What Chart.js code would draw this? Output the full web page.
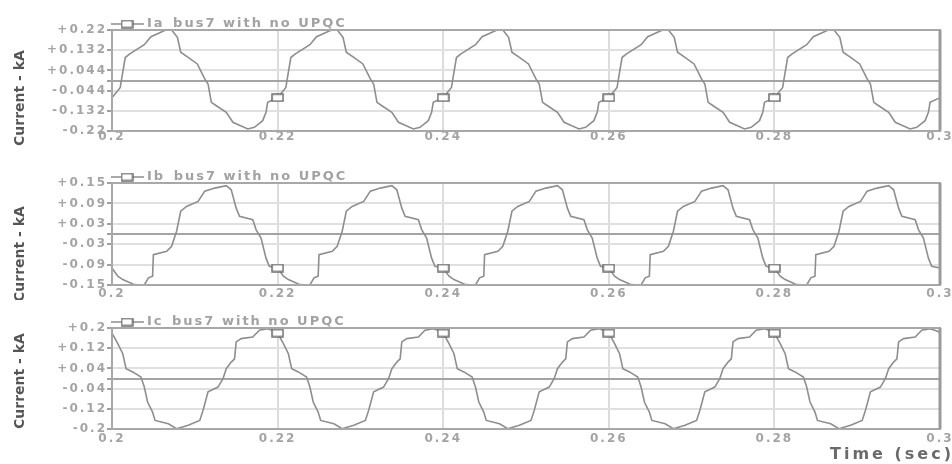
<!DOCTYPE html>
<html>
<head>
<meta charset="utf-8">
<script src="https://cdn.jsdelivr.net/npm/chart.js@4.4.1/dist/chart.umd.min.js"></script>
<style>
  html, body { margin: 0; padding: 0; background: #fff; }
  body { width: 952px; height: 464px; position: relative; overflow: hidden; }
  .box { position: absolute; left: 0; width: 952px; }
</style>
</head>
<body>
<div class="box" style="top:0;height:150px"><canvas id="chartA"></canvas></div>
<div class="box" style="top:150px;height:150px"><canvas id="chartB"></canvas></div>
<div class="box" style="top:300px;height:164px"><canvas id="chartC"></canvas></div>
<script>
// asse dei tempi
const xTicks = [0.2, 0.22, 0.24, 0.26, 0.28, 0.3];
const xLabels = ['0.2', '0.22', '0.24', '0.26', '0.28', '0.3'];
const markerTimes = [0.22, 0.24, 0.26, 0.28];

// Ia_bus7
const iaTime = [
  0.2, 0.201, 0.2012, 0.2016, 0.2021, 0.2039, 0.2047, 0.2065, 0.2072, 0.2079, 0.2083, 0.2092, 0.2103, 0.2112, 0.2116, 0.212, 0.2126, 0.2138, 0.2146, 0.2164, 0.2172, 0.2182, 0.2186, 0.2188,
  0.22, 0.221, 0.2212, 0.2216, 0.2221, 0.2239, 0.2247, 0.2265, 0.2272, 0.2279, 0.2283, 0.2292, 0.2303, 0.2312, 0.2316, 0.232, 0.2326, 0.2338, 0.2346, 0.2364, 0.2372, 0.2382, 0.2386, 0.2388,
  0.24, 0.241, 0.2412, 0.2416, 0.2421, 0.2439, 0.2447, 0.2465, 0.2472, 0.2479, 0.2483, 0.2492, 0.2503, 0.2512, 0.2516, 0.252, 0.2526, 0.2538, 0.2546, 0.2564, 0.2572, 0.2582, 0.2586, 0.2588,
  0.26, 0.261, 0.2612, 0.2616, 0.2621, 0.2639, 0.2647, 0.2665, 0.2672, 0.2679, 0.2683, 0.2692, 0.2703, 0.2712, 0.2716, 0.272, 0.2726, 0.2738, 0.2746, 0.2764, 0.2772, 0.2782, 0.2786, 0.2788,
  0.28, 0.281, 0.2812, 0.2816, 0.2821, 0.2839, 0.2847, 0.2865, 0.2872, 0.2879, 0.2883, 0.2892, 0.2903, 0.2912, 0.2916, 0.292, 0.2926, 0.2938, 0.2946, 0.2964, 0.2972, 0.2982, 0.2986, 0.2988,
  0.3
];
const iaCurrent = [
  -0.075, -0.03, 0.015, 0.1, 0.115, 0.156, 0.191, 0.22, 0.22, 0.188, 0.123, 0.101, 0.072, 0.007, -0.015, -0.095, -0.11, -0.139, -0.182, -0.211, -0.204, -0.175, -0.139, -0.095,
  -0.075, -0.03, 0.015, 0.1, 0.115, 0.156, 0.191, 0.22, 0.22, 0.188, 0.123, 0.101, 0.072, 0.007, -0.015, -0.095, -0.11, -0.139, -0.182, -0.211, -0.204, -0.175, -0.139, -0.095,
  -0.075, -0.03, 0.015, 0.1, 0.115, 0.156, 0.191, 0.22, 0.22, 0.188, 0.123, 0.101, 0.072, 0.007, -0.015, -0.095, -0.11, -0.139, -0.182, -0.211, -0.204, -0.175, -0.139, -0.095,
  -0.075, -0.03, 0.015, 0.1, 0.115, 0.156, 0.191, 0.22, 0.22, 0.188, 0.123, 0.101, 0.072, 0.007, -0.015, -0.095, -0.11, -0.139, -0.182, -0.211, -0.204, -0.175, -0.139, -0.095,
  -0.075, -0.03, 0.015, 0.1, 0.115, 0.156, 0.191, 0.22, 0.22, 0.188, 0.123, 0.101, 0.072, 0.007, -0.015, -0.095, -0.11, -0.139, -0.182, -0.211, -0.204, -0.175, -0.139, -0.095,
  -0.075
];
const iaTicks = [-0.22, -0.132, -0.044, 0, 0.044, 0.132, 0.22];
const iaTickLabels = ['-0.22', '-0.132', '-0.044', '', '+0.044', '+0.132', '+0.22'];

// Ib_bus7
const ibTime = [
  0.2, 0.2007, 0.2013, 0.2027, 0.2039, 0.2044, 0.2049, 0.205, 0.2066, 0.2072, 0.2078, 0.2083, 0.209, 0.2104, 0.2112, 0.2124, 0.2138, 0.2144, 0.215, 0.2154, 0.217, 0.2174, 0.218, 0.2186, 0.219,
  0.22, 0.2207, 0.2213, 0.2227, 0.2239, 0.2244, 0.2249, 0.225, 0.2266, 0.2272, 0.2278, 0.2283, 0.229, 0.2304, 0.2312, 0.2324, 0.2338, 0.2344, 0.235, 0.2354, 0.237, 0.2374, 0.238, 0.2386, 0.239,
  0.24, 0.2407, 0.2413, 0.2427, 0.2439, 0.2444, 0.2449, 0.245, 0.2466, 0.2472, 0.2478, 0.2483, 0.249, 0.2504, 0.2512, 0.2524, 0.2538, 0.2544, 0.255, 0.2554, 0.257, 0.2574, 0.258, 0.2586, 0.259,
  0.26, 0.2607, 0.2613, 0.2627, 0.2639, 0.2644, 0.2649, 0.265, 0.2666, 0.2672, 0.2678, 0.2683, 0.269, 0.2704, 0.2712, 0.2724, 0.2738, 0.2744, 0.275, 0.2754, 0.277, 0.2774, 0.278, 0.2786, 0.279,
  0.28, 0.2807, 0.2813, 0.2827, 0.2839, 0.2844, 0.2849, 0.285, 0.2866, 0.2872, 0.2878, 0.2883, 0.289, 0.2904, 0.2912, 0.2924, 0.2938, 0.2944, 0.295, 0.2954, 0.297, 0.2974, 0.298, 0.2986, 0.299,
  0.3
];
const ibCurrent = [
  -0.1, -0.124, -0.134, -0.149, -0.15, -0.129, -0.124, -0.061, -0.051, -0.036, 0.008, 0.067, 0.081, 0.096, 0.126, 0.135, 0.142, 0.13, 0.076, 0.052, 0.042, 0.013, -0.012, -0.071, -0.095,
  -0.1, -0.124, -0.134, -0.149, -0.15, -0.129, -0.124, -0.061, -0.051, -0.036, 0.008, 0.067, 0.081, 0.096, 0.126, 0.135, 0.142, 0.13, 0.076, 0.052, 0.042, 0.013, -0.012, -0.071, -0.095,
  -0.1, -0.124, -0.134, -0.149, -0.15, -0.129, -0.124, -0.061, -0.051, -0.036, 0.008, 0.067, 0.081, 0.096, 0.126, 0.135, 0.142, 0.13, 0.076, 0.052, 0.042, 0.013, -0.012, -0.071, -0.095,
  -0.1, -0.124, -0.134, -0.149, -0.15, -0.129, -0.124, -0.061, -0.051, -0.036, 0.008, 0.067, 0.081, 0.096, 0.126, 0.135, 0.142, 0.13, 0.076, 0.052, 0.042, 0.013, -0.012, -0.071, -0.095,
  -0.1, -0.124, -0.134, -0.149, -0.15, -0.129, -0.124, -0.061, -0.051, -0.036, 0.008, 0.067, 0.081, 0.096, 0.126, 0.135, 0.142, 0.13, 0.076, 0.052, 0.042, 0.013, -0.012, -0.071, -0.095,
  -0.1
];
const ibTicks = [-0.15, -0.09, -0.03, 0, 0.03, 0.09, 0.15];
const ibTickLabels = ['-0.15', '-0.09', '-0.03', '', '+0.03', '+0.09', '+0.15'];

// Ic_bus7
const icTime = [
  0.2, 0.2007, 0.2013, 0.2017, 0.2025, 0.2035, 0.2039, 0.2043, 0.2049, 0.2052, 0.2068, 0.2078, 0.2092, 0.2106, 0.211, 0.2116, 0.2128, 0.2134, 0.2138, 0.2144, 0.2148, 0.215, 0.2156, 0.217, 0.2178, 0.2188, 0.2198,
  0.22, 0.2207, 0.2213, 0.2217, 0.2225, 0.2235, 0.2239, 0.2243, 0.2249, 0.2252, 0.2268, 0.2278, 0.2292, 0.2306, 0.231, 0.2316, 0.2328, 0.2334, 0.2338, 0.2344, 0.2348, 0.235, 0.2356, 0.237, 0.2378, 0.2388, 0.2398,
  0.24, 0.2407, 0.2413, 0.2417, 0.2425, 0.2435, 0.2439, 0.2443, 0.2449, 0.2452, 0.2468, 0.2478, 0.2492, 0.2506, 0.251, 0.2516, 0.2528, 0.2534, 0.2538, 0.2544, 0.2548, 0.255, 0.2556, 0.257, 0.2578, 0.2588, 0.2598,
  0.26, 0.2607, 0.2613, 0.2617, 0.2625, 0.2635, 0.2639, 0.2643, 0.2649, 0.2652, 0.2668, 0.2678, 0.2692, 0.2706, 0.271, 0.2716, 0.2728, 0.2734, 0.2738, 0.2744, 0.2748, 0.275, 0.2756, 0.277, 0.2778, 0.2788, 0.2798,
  0.28, 0.2807, 0.2813, 0.2817, 0.2825, 0.2835, 0.2839, 0.2843, 0.2849, 0.2852, 0.2868, 0.2878, 0.2892, 0.2906, 0.291, 0.2916, 0.2928, 0.2934, 0.2938, 0.2944, 0.2948, 0.295, 0.2956, 0.297, 0.2978, 0.2988, 0.2998,
  0.3
];
const icCurrent = [
  0.18, 0.138, 0.098, 0.039, 0.026, 0.006, -0.034, -0.093, -0.133, -0.166, -0.179, -0.199, -0.185, -0.166, -0.126, -0.053, -0.034, -0.001, 0.039, 0.065, 0.078, 0.145, 0.158, 0.164, 0.191, 0.197, 0.186,
  0.18, 0.138, 0.098, 0.039, 0.026, 0.006, -0.034, -0.093, -0.133, -0.166, -0.179, -0.199, -0.185, -0.166, -0.126, -0.053, -0.034, -0.001, 0.039, 0.065, 0.078, 0.145, 0.158, 0.164, 0.191, 0.197, 0.186,
  0.18, 0.138, 0.098, 0.039, 0.026, 0.006, -0.034, -0.093, -0.133, -0.166, -0.179, -0.199, -0.185, -0.166, -0.126, -0.053, -0.034, -0.001, 0.039, 0.065, 0.078, 0.145, 0.158, 0.164, 0.191, 0.197, 0.186,
  0.18, 0.138, 0.098, 0.039, 0.026, 0.006, -0.034, -0.093, -0.133, -0.166, -0.179, -0.199, -0.185, -0.166, -0.126, -0.053, -0.034, -0.001, 0.039, 0.065, 0.078, 0.145, 0.158, 0.164, 0.191, 0.197, 0.186,
  0.18, 0.138, 0.098, 0.039, 0.026, 0.006, -0.034, -0.093, -0.133, -0.166, -0.179, -0.199, -0.185, -0.166, -0.126, -0.053, -0.034, -0.001, 0.039, 0.065, 0.078, 0.145, 0.158, 0.164, 0.191, 0.197, 0.186,
  0.18
];
const icTicks = [-0.2, -0.12, -0.04, 0, 0.04, 0.12, 0.2];
const icTickLabels = ['-0.2', '-0.12', '-0.04', '', '+0.04', '+0.12', '+0.2'];

// marker rettangolare (quadratino vuoto)
function makeMarker() {
  const c = document.createElement('canvas');
  c.width = 13;
  c.height = 9;
  const g = c.getContext('2d');
  g.fillStyle = '#fff';
  g.fillRect(1, 1, 11, 7);
  g.strokeStyle = '#6e6e6e';
  g.lineWidth = 1.5;
  g.strokeRect(1, 1, 11, 7);
  return c;
}
const marker = makeMarker();

function framePlugin(cfg) {
  return {
    id: 'frame',
    beforeUpdate(chart) { chart.ctx.letterSpacing = '2px'; },
    beforeDraw(chart) { chart.ctx.letterSpacing = '2px'; },
    afterDraw(chart) {
      const ctx = chart.ctx;
      const a = chart.chartArea;
      ctx.save();
      ctx.strokeStyle = '#a8a8a8';
      ctx.lineWidth = 2;
      ctx.strokeRect(a.left, a.top, a.right - a.left, a.bottom - a.top);
      ctx.strokeStyle = '#9a9a9a';
      ctx.lineWidth = 3;
      ctx.beginPath();
      ctx.moveTo(a.right, a.top);
      ctx.lineTo(a.right, a.bottom);
      ctx.stroke();

      // legenda
      const ly = a.top - 6;
      ctx.strokeStyle = '#8c8c8c';
      ctx.lineWidth = 1.5;
      ctx.beginPath();
      ctx.moveTo(a.left - 1, ly);
      ctx.lineTo(a.left + 32, ly);
      ctx.stroke();
      ctx.drawImage(marker, a.left + 15 - marker.width / 2, ly - marker.height / 2);
      ctx.letterSpacing = '2px';
      ctx.font = 'bold 13px "DejaVu Sans"';
      ctx.fillStyle = '#a2a2a2';
      ctx.textBaseline = 'middle';
      ctx.textAlign = 'left';
      ctx.fillText(cfg.label, a.left + 35, ly);

      if (cfg.xTitle) {
        ctx.letterSpacing = '3px';
        ctx.font = 'bold 16px "DejaVu Sans"';
        ctx.fillStyle = '#6a6a6a';
        ctx.textAlign = 'right';
        ctx.fillText(cfg.xTitle, 954, cfg.xTitleY);
      }

      // titolo asse y
      ctx.letterSpacing = '0px';
      ctx.translate(20, cfg.titleY);
      ctx.rotate(-Math.PI / 2);
      ctx.font = 'bold 14px "DejaVu Sans"';
      ctx.fillStyle = '#555';
      ctx.textAlign = 'center';
      ctx.fillText('Current - kA', 0, 0);
      ctx.restore();
    }
  };
}

function makeChart(id, cfg) {
  const points = cfg.time.map((t, i) => ({ x: t, y: cfg.values[i] }));
  return new Chart(document.getElementById(id), {
    type: 'line',
    data: {
      datasets: [{
        label: cfg.label,
        data: points,
        borderColor: '#8e8e8e',
        borderWidth: 1.6,
        tension: 0,
        pointStyle: marker,
        pointRadius: c => (c.raw && markerTimes.includes(c.raw.x)) ? 5 : 0
      }]
    },
    options: {
      responsive: true,
      maintainAspectRatio: false,
      animation: false,
      events: [],
      layout: { padding: { top: cfg.padTop, right: 12, left: 0, bottom: 0 } },
      plugins: { legend: { display: false }, tooltip: { enabled: false } },
      scales: {
        x: {
          type: 'linear',
          min: 0.2,
          max: 0.3,
          afterBuildTicks: s => { s.ticks = xTicks.map(v => ({ value: v })); },
          afterFit: s => { s.height = cfg.xHeight; s.paddingLeft = 0; s.paddingRight = 0; },
          ticks: {
            autoSkip: false,
            maxRotation: 0,
            padding: cfg.xPad,
            color: '#a4a4a4',
            font: { family: 'DejaVu Sans', size: 12, weight: 'bold' },
            callback: (v, i) => xLabels[i]
          },
          grid: {
            color: c => (c.tick && (c.tick.value === 0.2 || c.tick.value === 0.3)) ? 'rgba(0,0,0,0)' : '#dcdcdc',
            lineWidth: 2,
            drawTicks: false
          },
          border: { display: false }
        },
        y: {
          min: cfg.ticks[0],
          max: cfg.ticks[cfg.ticks.length - 1],
          afterBuildTicks: s => { s.ticks = cfg.ticks.map(v => ({ value: v })); },
          afterFit: s => { s.width = 112; },
          ticks: {
            autoSkip: false,
            padding: 0,
            color: '#a4a4a4',
            font: { family: 'DejaVu Sans', size: 12, weight: 'bold' },
            callback: (v, i) => cfg.tickLabels[i]
          },
          grid: {
            color: c => (c.tick && c.tick.value === 0) ? '#a4a4a4' : '#e0e0e0',
            lineWidth: 2,
            tickColor: '#a0a0a0',
            tickLength: 5
          },
          border: { display: false }
        }
      }
    },
    plugins: [framePlugin(cfg)]
  });
}

makeChart('chartA', {
  label: 'Ia_bus7 with no UPQC', time: iaTime, values: iaCurrent,
  ticks: iaTicks, tickLabels: iaTickLabels,
  padTop: 30, xHeight: 19, xPad: -1, titleY: 98
});
makeChart('chartB', {
  label: 'Ib_bus7 with no UPQC', time: ibTime, values: ibCurrent,
  ticks: ibTicks, tickLabels: ibTickLabels,
  padTop: 33, xHeight: 15, xPad: 2, titleY: 104
});
makeChart('chartC', {
  label: 'Ic_bus7 with no UPQC', time: icTime, values: icCurrent,
  ticks: icTicks, tickLabels: icTickLabels,
  padTop: 28, xHeight: 35, xPad: 3, titleY: 81,
  xTitle: 'Time (sec)', xTitleY: 155
});
</script>
</body>
</html>
